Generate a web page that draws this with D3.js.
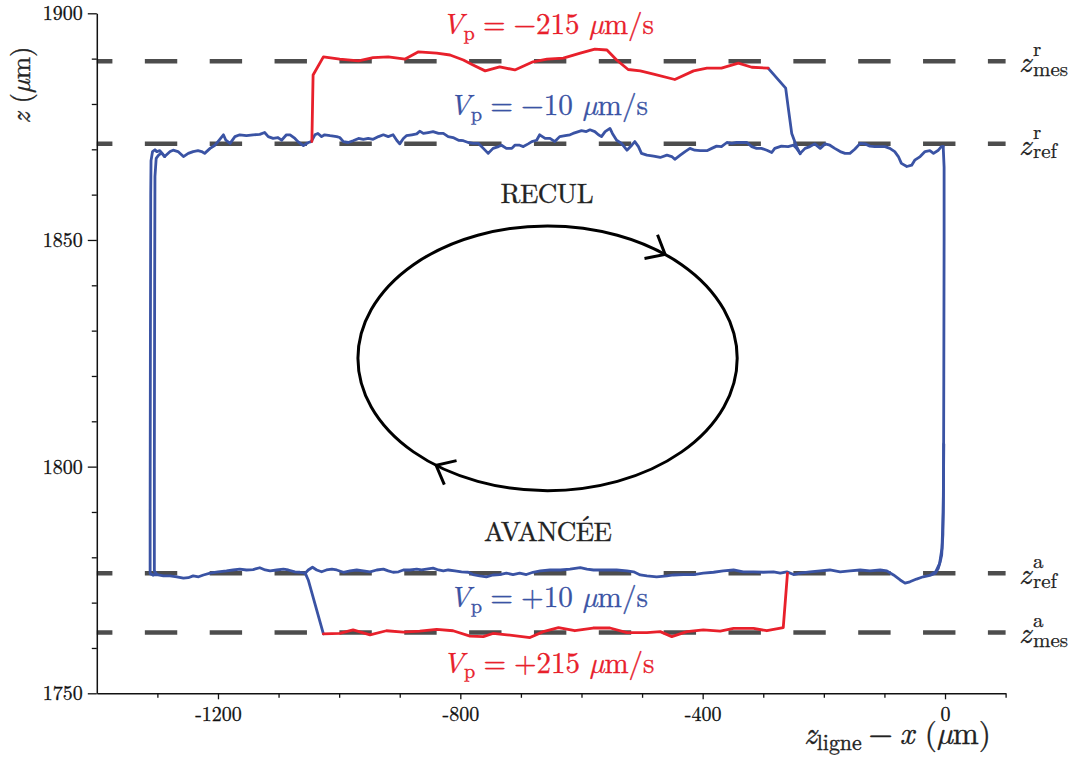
<!DOCTYPE html>
<html><head><meta charset="utf-8">
<script src="https://cdn.jsdelivr.net/npm/d3@7"></script>
<style>
html,body{margin:0;padding:0;background:#fff;}
</style></head><body>
<svg id="chart" width="1074" height="758"></svg>
<script>
// ---------------- data ----------------
const xDomain = [-1400, 100];
const zDomain = [1750, 1900];
const xMajorTicks = [-1200, -800, -400, 0];
const xMinorTicks = [-1300, -1100, -1000, -900, -700, -600, -500, -300, -200, -100, 100];
const zMajorTicks = [1750, 1800, 1850, 1900];
const zMinorTicks = [1760, 1770, 1780, 1790, 1810, 1820, 1830, 1840, 1860, 1870, 1880, 1890];

// reference / measured levels (µm)
const levelNames = ["mes", "ref", "ref", "mes"];
const levelSups  = ["r", "r", "a", "a"];
const levelZ     = [1889.4, 1871.2, 1776.5, 1763.4];

// blue: Vp = ±10 µm/s
const blueRecul = [[-1301,1869.5],[-1296,1869.7],[-1288,1868.4],[-1279,1869.5],[-1274,1869.8],[-1266,1869.5],[-1257,1868.4],[-1249,1869.1],[-1241,1869.5],[-1233,1869.7],[-1227,1869.5],[-1222,1869.1],[-1213,1870.2],[-1205,1870.9],[-1200,1871.7],[-1191,1873.2],[-1187,1872.0],[-1180,1871.3],[-1172,1872.8],[-1164,1873.2],[-1153,1873.0],[-1142,1873.2],[-1131,1873.3],[-1123,1873.7],[-1117,1872.8],[-1109,1872.4],[-1101,1872.6],[-1095,1872.0],[-1087,1873.2],[-1081,1873.2],[-1073,1872.4],[-1068,1871.7],[-1059,1870.8],[-1051,1871.5],[-1046,1871.7],[-1040,1873.2],[-1035,1873.5],[-1029,1872.8],[-1024,1873.2],[-1015,1873.0],[-1004,1872.8],[-999,1872.6],[-993,1871.7],[-985,1871.5],[-977,1871.9],[-968,1872.4],[-960,1872.2],[-952,1872.4],[-944,1872.2],[-935,1872.8],[-927,1873.2],[-919,1872.8],[-911,1873.2],[-905,1872.0],[-900,1871.2],[-894,1872.4],[-889,1873.0],[-880,1873.2],[-872,1873.4],[-867,1874.0],[-861,1873.5],[-853,1873.7],[-845,1873.9],[-836,1873.5],[-828,1873.5],[-820,1872.8],[-812,1872.6],[-803,1872.0],[-795,1871.9],[-787,1871.5],[-779,1871.3],[-770,1871.3],[-762,1870.2],[-754,1869.1],[-746,1870.2],[-737,1870.6],[-732,1870.9],[-724,1870.2],[-715,1870.2],[-710,1870.9],[-702,1870.9],[-696,1870.6],[-688,1871.2],[-682,1871.7],[-674,1872.0],[-669,1873.2],[-660,1872.4],[-652,1872.4],[-644,1871.7],[-636,1872.8],[-627,1873.0],[-619,1873.2],[-614,1873.5],[-605,1873.9],[-600,1874.1],[-592,1873.9],[-586,1874.3],[-578,1873.9],[-572,1873.2],[-567,1872.8],[-561,1873.9],[-553,1874.6],[-549,1873.5],[-542,1872.0],[-534,1871.3],[-525,1869.8],[-517,1870.9],[-512,1871.7],[-506,1870.6],[-501,1869.1],[-492,1868.7],[-481,1868.5],[-470,1868.2],[-459,1868.7],[-451,1868.4],[-446,1867.8],[-437,1868.7],[-429,1869.5],[-421,1870.2],[-413,1869.8],[-404,1869.7],[-393,1869.7],[-385,1870.2],[-377,1870.7],[-369,1870.6],[-360,1871.5],[-352,1871.3],[-344,1871.5],[-336,1871.5],[-327,1871.5],[-319,1870.6],[-311,1870.2],[-303,1870.2],[-294,1869.8],[-286,1869.3],[-281,1870.2],[-270,1870.7],[-259,1870.6],[-250,1870.9],[-245,1870.2],[-239,1869.1],[-231,1870.2],[-223,1870.6],[-215,1871.2],[-206,1870.2],[-198,1871.2],[-190,1870.9],[-182,1870.2],[-173,1869.5],[-165,1869.1],[-157,1869.1],[-149,1870.0],[-140,1871.3],[-132,1871.2],[-124,1870.7],[-116,1870.6],[-107,1870.6],[-99,1870.6],[-91,1870.2],[-83,1869.5],[-77,1868.4],[-72,1866.9],[-63,1866.2],[-55,1866.5],[-50,1867.6],[-41,1868.4],[-33,1869.5],[-25,1869.7],[-19,1869.1],[-11,1869.8],[-6,1870.6],[-3,1870.6]];
const blueRightA = [[-3,1870.6],[-1.5,1866],[-1.5,1850],[-2,1820],[-2.5,1795],[-3.5,1785],[-5.5,1780.5]];
const blueRightB = [[-2,1805],[-3,1790],[-5,1782],[-9,1778.6],[-15,1776.9],[-22,1776.3]];
const blueAvancee = [[-5.5,1780.5],[-8,1779.0],[-11,1777.6],[-16,1776.5],[-25,1776.0],[-36,1775.7],[-47,1775.2],[-58,1774.6],[-66,1774.3],[-74,1775.0],[-85,1776.1],[-96,1777.0],[-107,1777.2],[-124,1777.0],[-140,1777.2],[-157,1777.0],[-173,1776.8],[-190,1777.2],[-206,1777.0],[-223,1776.8],[-239,1776.5],[-250,1776.2],[-261,1776.8],[-272,1776.5],[-283,1776.8],[-300,1776.7],[-316,1776.8],[-333,1776.8],[-349,1777.2],[-366,1777.0],[-382,1776.7],[-399,1776.5],[-415,1776.2],[-432,1776.2],[-448,1776.1],[-459,1775.9],[-476,1775.7],[-492,1775.9],[-503,1776.1],[-514,1776.8],[-525,1777.0],[-542,1777.2],[-558,1777.2],[-569,1777.2],[-580,1777.2],[-591,1777.4],[-602,1777.7],[-619,1777.4],[-635,1777.2],[-652,1777.2],[-668,1777.0],[-680,1776.7],[-691,1776.2],[-702,1776.5],[-713,1776.2],[-724,1776.5],[-735,1776.2],[-746,1776.1],[-757,1775.7],[-768,1775.9],[-779,1776.2],[-787,1776.7],[-798,1776.8],[-809,1777.0],[-820,1777.2],[-828,1777.0],[-836,1777.2],[-845,1777.6],[-856,1777.4],[-864,1777.2],[-872,1777.4],[-883,1777.2],[-894,1777.2],[-902,1776.8],[-911,1776.7],[-919,1777.0],[-927,1777.4],[-938,1777.2],[-949,1776.8],[-960,1777.0],[-971,1777.2],[-982,1777.0],[-993,1776.7],[-1004,1777.2],[-1012,1777.4],[-1021,1777.2],[-1029,1776.8],[-1037,1777.2],[-1044,1777.8],[-1051,1777.2],[-1056,1776.5],[-1065,1776.7],[-1073,1776.8],[-1084,1777.2],[-1092,1777.4],[-1103,1777.2],[-1114,1777.0],[-1122,1777.2],[-1131,1777.7],[-1142,1777.3],[-1153,1777.2],[-1164,1777.4],[-1175,1777.2],[-1186,1777.0],[-1200,1776.8],[-1213,1776.5],[-1224,1776.1],[-1232,1775.7],[-1241,1775.9],[-1249,1775.5],[-1257,1775.4],[-1268,1775.7],[-1279,1775.9],[-1290,1775.9],[-1301,1776.2],[-1307,1776.1]];
const blueLeftOuter = [[-1307,1776.1],[-1312,1776.4],[-1312,1790],[-1311.5,1830],[-1311,1860],[-1310.5,1867.5],[-1308,1869.5],[-1304,1869.9],[-1301,1869.5]];
const blueLeftInner = [[-1301,1776.2],[-1305,1777],[-1305,1800],[-1304.5,1840],[-1304,1864],[-1302,1868],[-1298,1868.7],[-1293,1869.2],[-1288,1868.4]];
const blueRelaxRecul = [[-292,1887.9],[-263,1883.5],[-259,1879.4],[-253,1873.5],[-245,1870.6],[-239,1869.0]];
const blueRelaxAvancee = [[-1056,1776.5],[-1051,1775.0],[-1026,1763.1]];

// red: Vp = ±215 µm/s
const redRecul = [[-1045,1871.7],[-1043,1886.4],[-1026,1890.4],[-999,1889.9],[-968,1889.5],[-944,1890.2],[-919,1890.4],[-891,1889.9],[-869,1891.5],[-839,1891.2],[-817,1890.8],[-795,1889.7],[-779,1888.6],[-759,1887.3],[-735,1888.2],[-710,1887.5],[-680,1889.3],[-657,1889.9],[-630,1890.1],[-602,1891.2],[-578,1892.1],[-558,1891.9],[-542,1889.7],[-523,1887.6],[-503,1887.3],[-481,1886.6],[-446,1885.4],[-415,1887.3],[-393,1887.9],[-369,1887.9],[-341,1889.0],[-319,1888.1],[-292,1887.9]];
const redAvancee = [[-1026,1763.1],[-999,1763.2],[-977,1764.0],[-949,1762.9],[-922,1763.8],[-894,1763.5],[-867,1763.7],[-839,1764.1],[-812,1763.8],[-784,1762.6],[-762,1762.5],[-746,1763.2],[-723,1762.9],[-685,1762.3],[-663,1763.6],[-638,1764.5],[-611,1763.8],[-581,1764.4],[-553,1764.4],[-525,1763.4],[-492,1763.4],[-470,1763.6],[-451,1762.5],[-426,1763.6],[-399,1764.0],[-371,1763.7],[-349,1764.3],[-316,1764.3],[-294,1763.8],[-267,1764.5],[-260,1776.5]];

// cycle ellipse (data units)
const cycleCenter = [-656, 1823.9];
const cycleRadii = [313, 29.2];

// ---------------- drawing ----------------
const FONT = "Latin Modern Roman";
const MU = "\u00b5";
const BLUE = "#3a53a4", RED = "#e8202b", DASH = "#4d4d4d";
const svg = d3.select("#chart").attr("font-family", FONT);
const x = d3.scaleLinear().domain(xDomain).range([96.8, 1005.6]);
const y = d3.scaleLinear().domain(zDomain).range([693.3, 13.3]);

// slightly embolden text to mimic the rasterised LaTeX labels
function ink(sel, col, w) { return sel.attr("fill", col).attr("stroke", col).attr("stroke-width", w == null ? 0.35 : w); }

// dashed levels
svg.append("g").selectAll("line").data(levelZ).join("line")
  .attr("x1", x(xDomain[0])).attr("x2", x(xDomain[1]))
  .attr("y1", d => y(d)).attr("y2", d => y(d))
  .attr("stroke", DASH).attr("stroke-width", 4.5)
  .attr("stroke-dasharray", "32.4,32.45").attr("stroke-dashoffset", 16.8);

// axes
function styleAxis(g) {
  g.attr("font-family", FONT).attr("font-size", 20);
  g.selectAll("path.domain").attr("stroke", "#111").attr("stroke-width", 1.5);
  g.selectAll(".tick line").attr("stroke", "#111").attr("stroke-width", 1.3);
  ink(g.selectAll(".tick text").attr("font-family", FONT).attr("font-size", 20), "#111", 0.3);
}
const gx = svg.append("g").attr("transform", `translate(0,${y(zDomain[0])})`)
  .call(d3.axisBottom(x).tickValues(xMajorTicks).tickSize(6).tickSizeOuter(0).tickPadding(8).tickFormat(d => String(d)));
styleAxis(gx);
const gxm = svg.append("g").attr("transform", `translate(0,${y(zDomain[0])})`)
  .call(d3.axisBottom(x).tickValues(xMinorTicks).tickSize(4.5).tickFormat(""));
gxm.select("path.domain").remove(); styleAxis(gxm);

const gy = svg.append("g").attr("transform", `translate(${x(xDomain[0])},0)`)
  .call(d3.axisLeft(y).tickValues(zMajorTicks).tickSize(9).tickSizeOuter(0).tickPadding(5).tickFormat(d => String(d)));
styleAxis(gy);
const gym = svg.append("g").attr("transform", `translate(${x(xDomain[0])},0)`)
  .call(d3.axisLeft(y).tickValues(zMinorTicks).tickSize(5).tickFormat(""));
gym.select("path.domain").remove(); styleAxis(gym);

// curves
const line = d3.line().x(d => x(d[0])).y(d => y(d[1]));
const series = [
  [blueLeftOuter, BLUE], [blueLeftInner, BLUE], [blueRecul, BLUE], [blueRightA, BLUE], [blueRightB, BLUE],
  [blueAvancee, BLUE], [blueRelaxRecul, BLUE], [blueRelaxAvancee, BLUE],
  [redRecul, RED], [redAvancee, RED]
];
svg.append("g").selectAll("path").data(series).join("path")
  .attr("d", d => line(d[0])).attr("fill", "none").attr("stroke", d => d[1])
  .attr("stroke-width", 2.8).attr("stroke-linejoin", "round").attr("stroke-linecap", "round");

// cycle ellipse with arrows
const ecx = x(cycleCenter[0]), ecy = y(cycleCenter[1]);
const erx = x(cycleCenter[0] + cycleRadii[0]) - ecx, ery = y(cycleCenter[1] - cycleRadii[1]) - ecy;
svg.append("ellipse").attr("cx", ecx).attr("cy", ecy).attr("rx", erx).attr("ry", ery)
  .attr("fill", "none").attr("stroke", "#000").attr("stroke-width", 3);
[-51.7, 126].forEach(deg => {
  const t = deg * Math.PI / 180;
  const px = ecx + erx * Math.cos(t), py = ecy + ery * Math.sin(t);
  let tx = -erx * Math.sin(t), ty = ery * Math.cos(t);
  const n = Math.hypot(tx, ty); tx /= n; ty /= n;
  const back = Math.atan2(-ty, -tx), a = 40 * Math.PI / 180, L = 21;
  const p1 = [px + L * Math.cos(back + a), py + L * Math.sin(back + a)];
  const p2 = [px + L * Math.cos(back - a), py + L * Math.sin(back - a)];
  svg.append("path").attr("d", `M${p1}L${px},${py}L${p2}`)
    .attr("fill", "none").attr("stroke", "#000").attr("stroke-width", 3).attr("stroke-linejoin", "miter");
});

// math-like text: parts {t, i (italic), sub, gap (em before part)}; size fitted to target width
function mathText(g, parts, size, target) {
  function build(s) {
    g.selectAll("tspan").remove();
    g.attr("font-size", s);
    let shift = 0;
    parts.forEach(p => {
      const ts = g.append("tspan").attr("font-family", FONT).text(p.t);
      const want = p.sub ? s * 0.2 : 0;
      if (want !== shift) { ts.attr("dy", want - shift); shift = want; }
      if (p.gap) ts.attr("dx", p.gap * s);
      if (p.sub) ts.attr("font-size", s * 0.7);
      if (p.i) ts.attr("font-style", "italic");
    });
  }
  build(size);
  if (target) {
    for (let k = 0; k < 2; k++) {
      const w = g.node().getBBox().width;
      if (w > 0) { size = size * target / w; build(size); }
    }
  }
}
const vLabels = [
  {txt: "\u2212215", col: RED, cx: 548, base: 34.3, w: 212},
  {txt: "\u221210", col: BLUE, cx: 548.5, base: 115, w: 199},
  {txt: "+10", col: BLUE, cx: 548.5, base: 606.7, w: 199},
  {txt: "+215", col: RED, cx: 548.5, base: 672.7, w: 212}
];
vLabels.forEach(L => {
  const t = ink(svg.append("text").attr("x", L.cx).attr("y", L.base).attr("text-anchor", "middle"), L.col, 0.3);
  mathText(t, [{t: "V", i: true}, {t: "p", sub: true}, {t: "=", gap: 0.278}, {t: L.txt, gap: 0.278},
               {t: MU, i: true, gap: 0.333}, {t: "m/s"}], 30, L.w);
});

// phase labels
ink(svg.append("text").attr("x", 547).attr("y", 203).attr("text-anchor", "middle").attr("font-size", 27)
  .attr("font-family", FONT).attr("textLength", 93).attr("lengthAdjust", "spacing").text("RECUL"), "#222");
ink(svg.append("text").attr("x", 548).attr("y", 541).attr("text-anchor", "middle").attr("font-size", 27)
  .attr("font-family", FONT).attr("textLength", 128).attr("lengthAdjust", "spacing").text("AVANC\u00c9E"), "#222");

// right level labels
levelZ.forEach((z, i) => {
  const yb = y(z) + 10.7;
  ink(svg.append("text").attr("x", 1019).attr("y", yb).attr("font-size", 30).attr("font-style", "italic")
    .attr("font-family", FONT).text("z"), "#222");
  ink(svg.append("text").attr("x", 1033).attr("y", yb - 16).attr("font-size", 21)
    .attr("font-family", FONT).text(levelSups[i]), "#222", 0.25);
  ink(svg.append("text").attr("x", 1033).attr("y", yb + 3.8).attr("font-size", 21)
    .attr("font-family", FONT).text(levelNames[i]), "#222", 0.25);
});

// axis titles
const yt = ink(svg.append("text").attr("transform", "translate(30,85) rotate(-90)").attr("text-anchor", "middle"), "#222");
mathText(yt, [{t: "z", i: true}, {t: "(", gap: 0.333}, {t: MU, i: true}, {t: "m)"}], 27, 77);
const xt = ink(svg.append("text").attr("x", 897.5).attr("y", 744).attr("text-anchor", "middle"), "#222");
mathText(xt, [{t: "z", i: true}, {t: "ligne", sub: true}, {t: "\u2212", gap: 0.222}, {t: "x", i: true, gap: 0.222},
              {t: "(", gap: 0.333}, {t: MU, i: true}, {t: "m)"}], 28, 187);
</script>
</body></html>
